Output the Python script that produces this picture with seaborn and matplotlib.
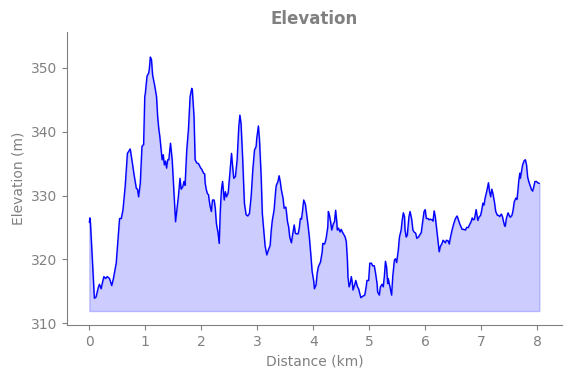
import matplotlib
matplotlib.use("Agg")
import matplotlib.pyplot as plt
import seaborn as sns
import pandas as pd
import numpy as np

distance_km = [
    0.00, 0.01, 0.02, 0.09, 0.12, 0.16, 0.18, 0.21, 0.23, 0.26, 0.29, 0.32, 0.36, 0.40, 0.43, 0.48,
    0.51, 0.54, 0.57, 0.60, 0.64, 0.68, 0.73, 0.76, 0.80, 0.84, 0.86, 0.88, 0.91, 0.94, 0.97, 0.99,
    1.00, 1.03, 1.06, 1.07, 1.09, 1.11, 1.13, 1.17, 1.20, 1.22, 1.24, 1.26, 1.29, 1.30, 1.32, 1.34,
    1.36, 1.38, 1.40, 1.42, 1.45, 1.48, 1.51, 1.54, 1.57, 1.59, 1.62, 1.64, 1.67, 1.69, 1.71, 1.74,
    1.77, 1.80, 1.83, 1.84, 1.87, 1.89, 1.92, 1.95, 1.99, 2.01, 2.04, 2.06, 2.07,
    2.09, 2.11, 2.13, 2.14, 2.16, 2.18, 2.20, 2.23, 2.25, 2.27, 2.30, 2.32, 2.34, 2.36, 2.38, 2.41,
    2.43, 2.45, 2.48, 2.50, 2.54, 2.56, 2.58, 2.61, 2.64, 2.67, 2.69, 2.71, 2.74, 2.77, 2.80, 2.83,
    2.86, 2.89, 2.92, 2.95, 2.98, 2.99, 3.02, 3.04, 3.07, 3.09, 3.12, 3.14,
    3.17, 3.20, 3.23, 3.25, 3.27, 3.30, 3.33, 3.34, 3.37, 3.39, 3.41, 3.43, 3.46, 3.48, 3.51, 3.52,
    3.54, 3.56, 3.58, 3.61, 3.63, 3.66, 3.68, 3.70, 3.73, 3.75, 3.77, 3.79, 3.81, 3.83, 3.86, 3.88,
    3.91, 3.93, 3.96, 3.98, 4.01, 4.02, 4.05, 4.07, 4.09, 4.13, 4.16, 4.17, 4.20, 4.21,
    4.23, 4.26, 4.27, 4.29, 4.31, 4.33, 4.36, 4.38, 4.40, 4.42, 4.43, 4.45, 4.48, 4.50, 4.52, 4.55,
    4.57, 4.59, 4.61, 4.62, 4.64, 4.66, 4.68, 4.70, 4.71, 4.74, 4.76, 4.79, 4.81, 4.83, 4.85, 4.88,
    4.92, 4.94, 4.96, 4.99, 5.01, 5.04, 5.06, 5.09, 5.11, 5.14, 5.15, 5.18, 5.20, 5.23, 5.25, 5.27, 5.29,
    5.31, 5.33, 5.34, 5.37, 5.40, 5.42, 5.45, 5.47, 5.49, 5.52, 5.54, 5.57, 5.59, 5.61, 5.63, 5.64,
    5.66, 5.68, 5.71, 5.73, 5.76, 5.78, 5.80, 5.83, 5.85, 5.88, 5.90, 5.93, 5.95, 5.98, 6.00, 6.02,
    6.05, 6.07, 6.09, 6.12, 6.14, 6.16, 6.18, 6.21, 6.23, 6.25, 6.27, 6.30, 6.32, 6.34,
    6.36, 6.38, 6.41, 6.43, 6.45, 6.48, 6.51, 6.54, 6.57, 6.59, 6.62, 6.66, 6.69, 6.72, 6.74, 6.77,
    6.79, 6.82, 6.84, 6.86, 6.88, 6.91, 6.92, 6.94, 6.96, 6.99, 7.01, 7.03, 7.05, 7.07, 7.09, 7.11,
    7.13, 7.15, 7.17, 7.19, 7.21, 7.24, 7.26, 7.29, 7.31, 7.33, 7.36, 7.38, 7.40, 7.42, 7.43,
    7.45, 7.48, 7.50, 7.52, 7.55, 7.57, 7.59, 7.62, 7.64, 7.66, 7.67, 7.69, 7.70, 7.72, 7.74, 7.77,
    7.79, 7.81, 7.83, 7.85, 7.88, 7.90, 7.92, 7.94, 7.96, 7.99, 8.01, 8.04,
]

elevation_m = [
    325.8, 326.5, 325.7, 313.9, 314.1, 315.6, 316.1, 315.4, 316.2, 317.3, 317.0, 317.3, 317.0, 315.9, 317.0, 319.4,
    323.0, 326.4, 326.4, 327.7, 331.4, 336.6, 337.3, 335.6, 333.2, 331.1, 331.0, 329.8, 331.9, 337.7, 338.0, 345.5,
    346.0, 348.7, 349.2, 349.7, 351.7, 351.3, 348.9, 347.1, 345.5, 342.4, 340.5, 339.2, 336.6, 335.6, 336.4, 334.8,
    335.4, 334.3, 335.6, 335.6, 338.2, 335.6, 330.9, 325.9, 328.2, 329.8, 332.7, 331.0, 331.4, 332.2, 331.6, 337.1,
    340.3, 345.5, 346.8, 346.5, 342.4, 335.6, 335.1, 335.0, 334.3, 334.1, 333.5, 333.4, 331.9,
    330.9, 330.3, 330.1, 329.3, 328.2, 327.5, 329.3, 329.3, 328.0, 325.6, 324.1, 322.5, 327.7, 330.9, 332.2, 329.3,
    330.6, 329.8, 330.4, 332.4, 336.6, 334.5, 332.7, 333.0, 335.6, 340.8, 342.6, 341.3, 335.6, 328.8, 327.0, 326.8,
    327.2, 329.8, 334.0, 337.1, 337.7, 338.9, 340.9, 338.7, 332.9, 327.2, 324.1, 322.1,
    320.7, 321.5, 322.2, 324.6, 326.2, 327.7, 330.9, 331.6, 332.2, 333.1, 332.2, 330.9, 329.6, 328.0, 328.2, 327.5,
    325.9, 325.1, 323.5, 322.6, 323.8, 325.4, 324.1, 324.0, 324.0, 324.9, 326.4, 326.3, 327.7, 329.3, 328.6, 327.2,
    325.1, 323.5, 320.4, 318.1, 316.5, 315.4, 316.0, 317.8, 318.8, 319.6, 321.2, 322.5, 322.4, 322.6,
    323.3, 325.1, 327.5, 326.9, 325.9, 324.6, 325.6, 325.9, 327.7, 325.9, 324.6, 324.9, 324.3, 324.7, 324.3, 323.8,
    323.5, 322.8, 319.9, 317.3, 315.7, 316.2, 317.3, 316.2, 315.2, 316.0, 316.7, 315.7, 315.4, 314.7, 314.0, 314.2,
    314.4, 315.4, 316.7, 316.7, 319.4, 319.4, 319.0, 319.0, 318.0, 316.2, 314.9, 314.4, 315.7, 316.1, 315.7, 317.3, 319.7,
    318.8, 316.2, 317.0, 315.7, 314.4, 317.3, 319.9, 320.1, 319.5, 321.5, 323.5, 324.6, 326.2, 327.3, 326.7, 324.6,
    323.5, 323.8, 326.7, 327.5, 326.2, 324.6, 324.3, 324.1, 323.3, 323.5, 323.8, 324.2, 325.6, 327.5, 327.8, 326.4,
    326.4, 326.2, 326.3, 326.2, 326.0, 327.6, 326.7, 324.3, 322.8, 321.2, 322.0, 322.5, 323.0, 322.8,
    322.6, 323.0, 322.9, 322.4, 323.4, 324.6, 325.6, 326.4, 326.8, 326.3, 325.5, 324.7, 324.7, 324.6, 325.0, 325.0,
    325.4, 325.9, 326.5, 326.2, 326.3, 327.8, 327.2, 326.1, 326.6, 326.9, 327.7, 328.8, 328.5, 329.6, 330.3, 331.1,
    332.0, 330.6, 329.8, 331.0, 330.3, 328.8, 327.5, 326.9, 326.9, 326.7, 327.1, 326.7, 325.9, 325.2, 325.2,
    326.4, 327.3, 326.9, 326.6, 326.9, 327.7, 329.0, 329.6, 329.4, 331.1, 332.2, 333.5, 332.7, 333.7, 334.8, 335.5,
    335.6, 334.8, 332.9, 332.2, 331.4, 330.9, 330.7, 331.4, 332.2, 332.2, 332.0, 331.9,
]

title_text = "Elevation"
x_label = "Distance (km)"
y_label = "Elevation (m)"

df = pd.DataFrame({"distance": distance_km, "elevation": elevation_m})
fill_base = df["elevation"].min() - 2

sns.set_style("ticks")
plt.rcParams["font.family"] = ["DejaVu Sans"]

fig = plt.figure(figsize=(5.71, 3.78), dpi=100)
ax = fig.add_axes([0.117, 0.140, 0.867, 0.775])

ax.fill_between(df["distance"], df["elevation"], fill_base, color="blue", alpha=0.2)
sns.lineplot(data=df, x="distance", y="elevation", ax=ax, color="blue", linewidth=1)

ax.set_ylim(309.7, 355.6)
ax.margins(x=0.05)
ax.set_xticks(range(0, 9))
ax.set_yticks([310, 320, 330, 340, 350])

gray = "#808080"
ax.set_title(title_text, color=gray, fontweight="bold", fontsize=12)
ax.set_xlabel(x_label, color=gray, fontsize=10)
ax.set_ylabel(y_label, color=gray, fontsize=10)
ax.tick_params(colors=gray, labelsize=10)
sns.despine(ax=ax)
for s in ["left", "bottom"]:
    ax.spines[s].set_color(gray)

fig.savefig("out.png", dpi=100)
